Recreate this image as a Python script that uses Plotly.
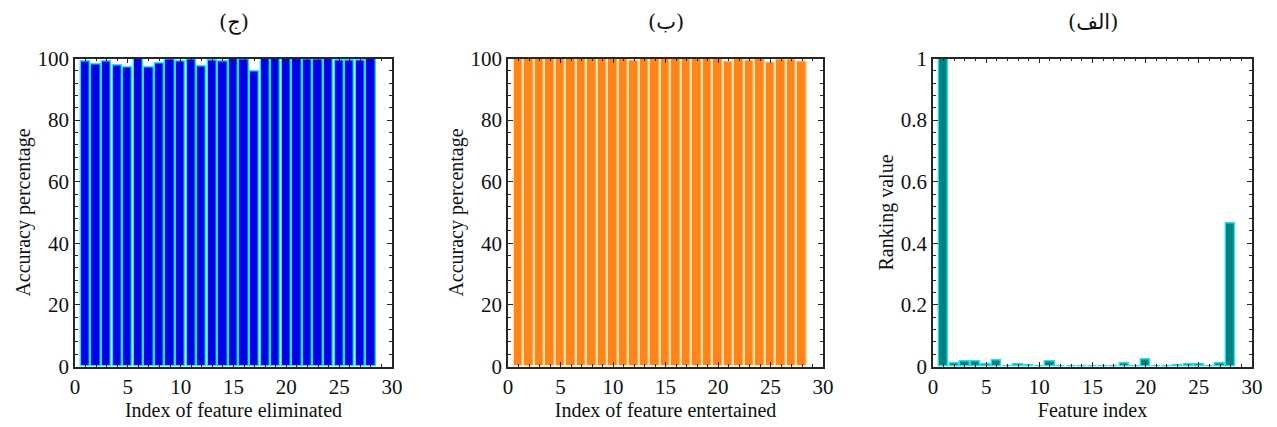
import plotly.graph_objects as go

feature_idx = list(range(1, 29))

acc_eliminated = [98.9, 98.1, 99.0, 97.7, 97.2, 100.0, 97.0, 98.3, 99.6, 99.0,
                  99.7, 97.5, 99.4, 98.9, 99.9, 99.7, 95.8, 100.0, 100.0, 100.0,
                  100.0, 99.7, 99.7, 100.0, 99.4, 99.4, 99.4, 100.0]

acc_entertained = [100.0, 100.0, 100.0, 100.0, 100.0, 100.0, 100.0, 100.0, 100.0, 100.0,
                   100.0, 99.2, 100.0, 100.0, 100.0, 100.0, 100.0, 100.0, 100.0, 100.0,
                   99.1, 100.0, 99.5, 100.0, 98.7, 99.6, 99.7, 98.9]

ranking = [1.0, 0.011, 0.017, 0.017, 0.005, 0.018, 0.001, 0.005, 0.002, 0.001,
           0.015, 0.001, 0.001, 0.001, 0.001, 0.001, 0.001, 0.009, 0.001, 0.022,
           0.001, 0.001, 0.004, 0.008, 0.008, 0.001, 0.009, 0.465]

titles = ["(ج)", "(ب)", "(الف)"]
x_titles = ["Index of feature eliminated", "Index of feature entertained", "Feature index"]
y_titles = ["Accuracy percentage", "Accuracy percentage", "Ranking value"]
x_ticks = [0, 5, 10, 15, 20, 25, 30]
acc_ticks = [0, 20, 40, 60, 80, 100]
rank_ticks = [0, 0.2, 0.4, 0.6, 0.8, 1]
rank_tick_text = ["0", "0.2", "0.4", "0.6", "0.8", "1"]

W, H = 1277, 427
OFF = 8  # page body margin
FONT = "Liberation Serif, Times New Roman, DejaVu Serif, serif"
AX = "#262626"

fig = go.Figure()

series = [
    (acc_eliminated, "#0000E6", "#19E6FF"),
    (acc_entertained, "#FF851A", "#FFE2A8"),
    (ranking, "#008080", "#19E6E6"),
]
for i, (vals, fill, edge) in enumerate(series):
    suf = "" if i == 0 else str(i + 1)
    fig.add_trace(go.Bar(
        x=feature_idx, y=vals, width=0.88,
        marker=dict(color=fill, line=dict(color=edge, width=1.4)),
        xaxis="x" + suf, yaxis="y" + suf, showlegend=False,
    ))

panels = [(75, 392), (508, 823), (933, 1252)]
top_px, bot_px = 58.5, 366.5

def px_x(v):
    return (v - OFF) / W

def px_y(v):
    return 1 - (v - OFF) / H

def ax_common():
    return dict(
        showline=True, linecolor=AX, linewidth=1.6, mirror="ticks",
        ticks="inside", ticklen=5, tickwidth=1.3, tickcolor=AX,
        showgrid=False, zeroline=False, automargin=False,
        tickfont=dict(family=FONT, size=21, color="#111"),
        title_font=dict(family=FONT, size=20, color="#111"),
    )

layout = dict(
    width=W, height=H, margin=dict(l=0, r=0, t=0, b=0),
    plot_bgcolor="white", paper_bgcolor="white", bargap=0,
)
for i, (x0, x1) in enumerate(panels):
    suf = "" if i == 0 else str(i + 1)
    xa = ax_common()
    xa.update(domain=[px_x(x0), px_x(x1)], range=[0, 30], tickvals=x_ticks,
              anchor="y" + suf, minor=dict(dtick=1, ticks="inside", ticklen=3, tickcolor=AX),
              title=dict(text=x_titles[i], standoff=5))
    ya = ax_common()
    ya.update(domain=[px_y(bot_px), px_y(top_px)], anchor="x" + suf,
              title=dict(text=y_titles[i], standoff=2))
    if i < 2:
        ya.update(range=[0, 100], tickvals=acc_ticks,
                  minor=dict(dtick=4, ticks="inside", ticklen=3, tickcolor=AX))
    else:
        ya.update(range=[0, 1], tickvals=rank_ticks, ticktext=rank_tick_text,
                  minor=dict(dtick=0.04, ticks="inside", ticklen=3, tickcolor=AX))
    layout["xaxis" + suf] = xa
    layout["yaxis" + suf] = ya

annotations = []
for i, (x0, x1) in enumerate(panels):
    annotations.append(dict(
        text=titles[i], x=px_x((x0 + x1) / 2), y=px_y(22), xref="paper", yref="paper",
        xanchor="center", yanchor="middle", showarrow=False,
        font=dict(family="DejaVu Serif, Liberation Serif, DejaVu Sans, serif", size=21, color="#111"),
    ))
layout["annotations"] = annotations

fig.update_layout(**layout)
fig.write_html("out.html")
